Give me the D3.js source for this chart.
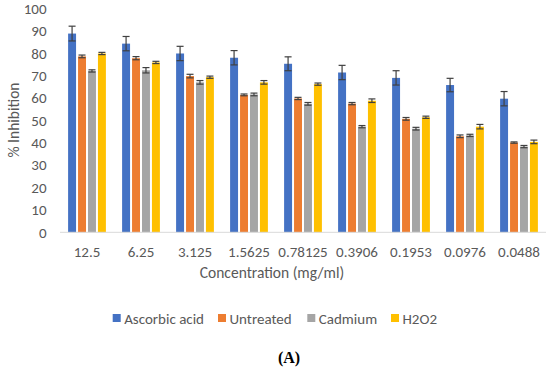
<!DOCTYPE html>
<html>
<head>
<meta charset="utf-8">
<script src="https://cdn.jsdelivr.net/npm/d3@7"></script>
<style>
html,body{margin:0;padding:0;background:#fff;}
svg{display:block;}
</style>
</head>
<body>
<svg id="chart" width="550" height="368"></svg>
<script>
const categories = ["12.5","6.25","3.125","1.5625","0.78125","0.3906","0.1953","0.0976","0.0488"];
const seriesNames = ["Ascorbic acid","Untreated","Cadmium","H2O2"];
const ascorbic = [88.8, 84.3, 79.9, 78.0, 75.3, 71.4, 69.0, 65.8, 59.7];
const ascorbicErr = [3.3, 3.2, 3.2, 3.2, 3.1, 3.2, 3.2, 3.0, 3.2];
const untreated = [78.6, 77.8, 69.8, 61.4, 59.8, 57.5, 50.7, 42.9, 40.1];
const untreatedErr = [0.6, 0.7, 0.8, 0.4, 0.5, 0.5, 0.6, 0.6, 0.3];
const cadmium = [72.1, 72.4, 67.0, 61.6, 57.4, 47.2, 46.3, 43.3, 38.3];
const cadmiumErr = [0.5, 1.2, 0.8, 0.6, 0.6, 0.5, 0.6, 0.5, 0.5];
const h2o2 = [79.9, 75.9, 69.3, 67.0, 66.2, 58.8, 51.4, 47.2, 40.4];
const h2o2Err = [0.5, 0.5, 0.5, 0.8, 0.5, 0.8, 0.5, 1.0, 0.8];
const yTicks = [0,10,20,30,40,50,60,70,80,90,100];

const colors = ["#4472C4","#ED7D31","#A5A5A5","#FFC000"];
const values = [ascorbic, untreated, cadmium, h2o2];
const errs = [ascorbicErr, untreatedErr, cadmiumErr, h2o2Err];

const svg = d3.select("#chart");
const font = "Carlito, 'Open Sans', 'Liberation Sans', sans-serif";
const textColor = "#595959";

const x0 = d3.scaleBand().domain(categories).range([60, 546]).paddingInner(0.3).paddingOuter(0.15);
const x1 = d3.scaleBand().domain(seriesNames).range([0, x0.bandwidth()]).paddingInner(0.2);
const y = d3.scaleLinear().domain([0, 100]).range([232.3, 8.5]);

// y tick labels
svg.append("g").selectAll("text").data(yTicks).join("text")
  .attr("x", 46.5).attr("y", d => y(d)).attr("dy", "0.35em")
  .attr("text-anchor", "end")
  .attr("font-family", font).attr("font-size", 15).attr("fill", textColor)
  .text(d => d);

// bars
const rows = [];
categories.forEach((c, i) => {
  seriesNames.forEach((s, j) => {
    rows.push({cat: c, ser: s, v: values[j][i], e: errs[j][i], color: colors[j]});
  });
});

const g = svg.append("g");
g.selectAll("rect").data(rows).join("rect")
  .attr("x", d => x0(d.cat) + x1(d.ser))
  .attr("y", d => y(d.v))
  .attr("width", x1.bandwidth())
  .attr("height", d => y(0) - y(d.v))
  .attr("fill", d => d.color);

// error bars
const eg = svg.append("g").attr("stroke", "#404040").attr("stroke-width", 1.2);
rows.forEach(d => {
  const cx = x0(d.cat) + x1(d.ser) + x1.bandwidth() / 2;
  const hw = 3.5;
  eg.append("line").attr("x1", cx).attr("x2", cx).attr("y1", y(d.v + d.e)).attr("y2", y(d.v - d.e));
  eg.append("line").attr("x1", cx - hw).attr("x2", cx + hw).attr("y1", y(d.v + d.e)).attr("y2", y(d.v + d.e));
  eg.append("line").attr("x1", cx - hw).attr("x2", cx + hw).attr("y1", y(d.v - d.e)).attr("y2", y(d.v - d.e));
});

// x axis line
svg.append("line").attr("x1", 60).attr("x2", 546).attr("y1", y(0)).attr("y2", y(0))
  .attr("stroke", "#D9D9D9").attr("stroke-width", 1);

// x tick labels
svg.append("g").selectAll("text").data(categories).join("text")
  .attr("x", d => x0(d) + x0.bandwidth() / 2).attr("y", 252).attr("dy", "0.35em")
  .attr("text-anchor", "middle")
  .attr("font-family", font).attr("font-size", 15).attr("fill", textColor)
  .text(d => d);

// axis titles
svg.append("text").attr("x", 272).attr("y", 273).attr("dy", "0.35em")
  .attr("text-anchor", "middle").attr("font-family", font).attr("font-size", 15.5)
  .attr("fill", textColor).text("Concentration (mg/ml)");

svg.append("text").attr("transform", "translate(14,120) rotate(-90)")
  .attr("dy", "0.35em").attr("text-anchor", "middle").attr("font-family", font)
  .attr("font-size", 15.5).attr("fill", textColor).text("% Inhibition");

// legend
const legendX = [112.7, 218, 307.3, 391];
const lg = svg.append("g");
seriesNames.forEach((s, j) => {
  lg.append("rect").attr("x", legendX[j]).attr("y", 314).attr("width", 8).attr("height", 8).attr("fill", colors[j]);
  lg.append("text").attr("x", legendX[j] + 11.5).attr("y", 318.5).attr("dy", "0.35em")
    .attr("font-family", font).attr("font-size", 15).attr("fill", textColor).text(s);
});

// panel label
svg.append("text").attr("x", 289).attr("y", 357).attr("dy", "0.35em")
  .attr("text-anchor", "middle").attr("font-family", "'Liberation Serif', 'DejaVu Serif', serif")
  .attr("font-weight", "bold").attr("font-size", 16).attr("fill", "#000").text("(A)");
</script>
</body>
</html>
